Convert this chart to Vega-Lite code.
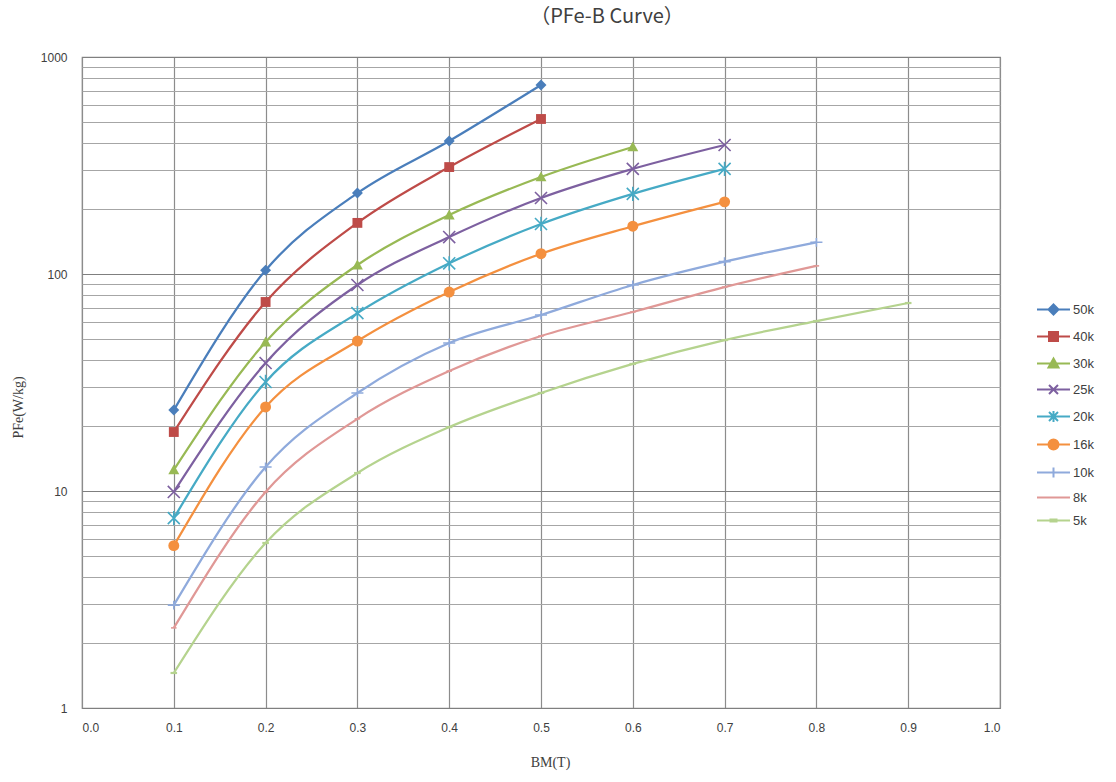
{
  "$schema": "https://vega.github.io/schema/vega-lite/v6.json",
  "width": 918,
  "height": 651,
  "autosize": {"type": "none"},
  "padding": {"left": 82, "top": 57, "right": 116, "bottom": 74},
  "background": "white",
  "title": {
    "text": "（PFe-B Curve）",
    "font": "Noto Sans CJK SC",
    "fontSize": 20,
    "fontWeight": "normal",
    "color": "#404040",
    "anchor": "middle",
    "dx": 66,
    "offset": 24
  },
  "config": {
    "view": {"stroke": "#8c8c8c", "strokeWidth": 1.2},
    "axis": {
      "labelFont": "Liberation Sans",
      "labelFontSize": 12,
      "labelColor": "#404040",
      "titleFont": "Liberation Serif",
      "titleFontSize": 14,
      "titleFontWeight": "normal",
      "titleColor": "#404040",
      "domain": false,
      "ticks": false
    },
    "point": {"size": 120, "strokeWidth": 1.6, "opacity": 1}
  },
  "data": {
    "values": [
      {"series": "50k", "B": 0.1, "P": 23.6},
      {"series": "50k", "B": 0.2, "P": 104},
      {"series": "50k", "B": 0.3, "P": 236},
      {"series": "50k", "B": 0.4, "P": 410},
      {"series": "50k", "B": 0.5, "P": 743},
      {"series": "40k", "B": 0.1, "P": 18.7},
      {"series": "40k", "B": 0.2, "P": 74.3},
      {"series": "40k", "B": 0.3, "P": 172},
      {"series": "40k", "B": 0.4, "P": 311},
      {"series": "40k", "B": 0.5, "P": 518},
      {"series": "30k", "B": 0.1, "P": 12.5},
      {"series": "30k", "B": 0.2, "P": 48.6},
      {"series": "30k", "B": 0.3, "P": 110},
      {"series": "30k", "B": 0.4, "P": 187},
      {"series": "30k", "B": 0.5, "P": 280},
      {"series": "30k", "B": 0.6, "P": 385},
      {"series": "25k", "B": 0.1, "P": 9.9},
      {"series": "25k", "B": 0.2, "P": 38.9},
      {"series": "25k", "B": 0.3, "P": 89},
      {"series": "25k", "B": 0.4, "P": 148},
      {"series": "25k", "B": 0.5, "P": 224},
      {"series": "25k", "B": 0.6, "P": 305},
      {"series": "25k", "B": 0.7, "P": 393},
      {"series": "20k", "B": 0.1, "P": 7.5},
      {"series": "20k", "B": 0.2, "P": 31.8},
      {"series": "20k", "B": 0.3, "P": 66},
      {"series": "20k", "B": 0.4, "P": 112},
      {"series": "20k", "B": 0.5, "P": 170},
      {"series": "20k", "B": 0.6, "P": 234},
      {"series": "20k", "B": 0.7, "P": 305},
      {"series": "16k", "B": 0.1, "P": 5.6},
      {"series": "16k", "B": 0.2, "P": 24.4},
      {"series": "16k", "B": 0.3, "P": 49.1},
      {"series": "16k", "B": 0.4, "P": 82.6},
      {"series": "16k", "B": 0.5, "P": 124},
      {"series": "16k", "B": 0.6, "P": 166},
      {"series": "16k", "B": 0.7, "P": 215},
      {"series": "10k", "B": 0.1, "P": 2.98},
      {"series": "10k", "B": 0.2, "P": 12.9},
      {"series": "10k", "B": 0.3, "P": 28.3},
      {"series": "10k", "B": 0.4, "P": 48.1},
      {"series": "10k", "B": 0.5, "P": 64.7},
      {"series": "10k", "B": 0.6, "P": 89},
      {"series": "10k", "B": 0.7, "P": 114},
      {"series": "10k", "B": 0.8, "P": 140},
      {"series": "8k", "B": 0.1, "P": 2.34},
      {"series": "8k", "B": 0.2, "P": 9.9},
      {"series": "8k", "B": 0.3, "P": 21.5},
      {"series": "8k", "B": 0.4, "P": 35.7},
      {"series": "8k", "B": 0.5, "P": 51.8},
      {"series": "8k", "B": 0.6, "P": 66.8},
      {"series": "8k", "B": 0.7, "P": 87},
      {"series": "8k", "B": 0.8, "P": 109},
      {"series": "5k", "B": 0.1, "P": 1.45},
      {"series": "5k", "B": 0.2, "P": 5.76},
      {"series": "5k", "B": 0.3, "P": 12.1},
      {"series": "5k", "B": 0.4, "P": 19.7},
      {"series": "5k", "B": 0.5, "P": 28.3},
      {"series": "5k", "B": 0.6, "P": 38.5},
      {"series": "5k", "B": 0.7, "P": 49.6},
      {"series": "5k", "B": 0.8, "P": 60.7},
      {"series": "5k", "B": 0.9, "P": 73.5}
    ]
  },
  "encoding": {
    "x": {
      "field": "B",
      "type": "quantitative",
      "scale": {"domain": [0, 1], "nice": false, "zero": false},
      "axis": {
        "title": "BM(T)",
        "values": [0, 0.1, 0.2, 0.3, 0.4, 0.5, 0.6, 0.7, 0.8, 0.9, 1.0],
        "format": ".1f",
        "labelPadding": 14,
        "gridColor": "#8c8c8c",
        "gridWidth": 1.2,
        "titleX": 468,
        "titleY": 54,
        "titleBaseline": "middle"
      }
    },
    "y": {
      "field": "P",
      "type": "quantitative",
      "scale": {"type": "log", "domain": [1, 1000], "nice": false},
      "axis": {
        "title": "PFe(W/kg)",
        "values": [1, 2, 3, 4, 5, 6, 7, 8, 9, 10, 20, 30, 40, 50, 60, 70, 80, 90, 100, 200, 300, 400, 500, 600, 700, 800, 900, 1000],
        "labelExpr": "(datum.value == 1 || datum.value == 10 || datum.value == 100 || datum.value == 1000) ? '' + datum.value : ''",
        "labelPadding": 15,
        "gridColor": {
          "condition": {"test": "datum.value == 1 || datum.value == 10 || datum.value == 100 || datum.value == 1000", "value": "#7f7f7f"},
          "value": "#a6a6a6"
        },
        "gridWidth": 1.2,
        "titleAngle": -90,
        "titleX": -64,
        "titleY": 350,
        "titleBaseline": "middle",
        "titleAlign": "center"
      }
    }
  },
  "layer": [
    {
      "mark": {"type": "line", "interpolate": "monotone", "strokeWidth": 2.25},
      "encoding": {
        "color": {
          "field": "series",
          "type": "nominal",
          "scale": {
            "domain": ["50k", "40k", "30k", "25k", "20k", "16k", "10k", "8k", "5k"],
            "range": ["#4a7ebb", "#be4b48", "#98b954", "#7d60a0", "#46aac5", "#f4903f", "#8faadc", "#e09896", "#b5d38e"]
          },
          "legend": {
            "orient": "none",
            "title": null,
            "legendX": 965,
            "legendY": 246,
            "padding": 0,
            "symbolSize": 100,
            "symbolStrokeWidth": 2,
            "labelOffset": 13,
            "labelFont": "Liberation Sans",
            "labelFontSize": 13,
            "labelColor": "#404040",
            "rowPadding": 9,
            "encode": {
              "symbols": {
                "update": {
                  "shape": {"signal": "datum.value === '50k' ? 'M-3.3,0L3.3,0M0,-1L1,0L0,1L-1,0Z' : datum.value === '40k' ? 'M-3.3,0L3.3,0M-0.9,-0.9L0.9,-0.9L0.9,0.9L-0.9,0.9Z' : datum.value === '30k' ? 'M-3.3,0L3.3,0M0,-1L1,0.8L-1,0.8Z' : datum.value === '25k' ? 'M-3.3,0L3.3,0M-0.9,-0.9L0.9,0.9M-0.9,0.9L0.9,-0.9' : datum.value === '20k' ? 'M-3.3,0L3.3,0M-0.9,-0.9L0.9,0.9M-0.9,0.9L0.9,-0.9M0,-1.1L0,1.1' : datum.value === '16k' ? 'M-3.3,0L3.3,0M-1,0A1,1 0 1,0 1,0A1,1 0 1,0 -1,0Z' : datum.value === '10k' ? 'M-3.3,0L3.3,0M0,-1L0,1' : datum.value === '5k' ? 'M-3.3,0L3.3,0M-0.6,-0.2L0.6,-0.2L0.6,0.2L-0.6,0.2Z' : 'M-3.3,0L3.3,0'"},
                  "fill": {"scale": "color", "field": "value"},
                  "stroke": {"scale": "color", "field": "value"},
                  "strokeWidth": {"value": 2},
                  "opacity": {"value": 1}
                }
              }
            }
          }
        }
      }
    },
    {
      "transform": [{"filter": "datum.series === '50k'"}],
      "mark": {"type": "point", "filled": true, "color": "#4a7ebb", "shape": "M0,-1L1,0L0,1L-1,0Z"}
    },
    {
      "transform": [{"filter": "datum.series === '40k'"}],
      "mark": {"type": "point", "filled": true, "color": "#be4b48", "shape": "M-0.9,-0.9L0.9,-0.9L0.9,0.9L-0.9,0.9Z"}
    },
    {
      "transform": [{"filter": "datum.series === '30k'"}],
      "mark": {"type": "point", "filled": true, "color": "#98b954", "shape": "M0,-1L1,0.8L-1,0.8Z"}
    },
    {
      "transform": [{"filter": "datum.series === '25k'"}],
      "mark": {"type": "point", "filled": false, "color": "#7d60a0", "shape": "M-1.1,-1.1L1.1,1.1M-1.1,1.1L1.1,-1.1"}
    },
    {
      "transform": [{"filter": "datum.series === '20k'"}],
      "mark": {"type": "point", "filled": false, "color": "#46aac5", "shape": "M-1.1,-1.1L1.1,1.1M-1.1,1.1L1.1,-1.1M0,-1.3L0,1.3"}
    },
    {
      "transform": [{"filter": "datum.series === '16k'"}],
      "mark": {"type": "point", "filled": true, "color": "#f4903f", "shape": "circle"}
    },
    {
      "transform": [{"filter": "datum.series === '10k'"}],
      "mark": {"type": "point", "filled": false, "color": "#8faadc", "shape": "M-1.1,0L1.1,0M0,-0.8L0,0.8"}
    },
    {
      "transform": [{"filter": "datum.series === '8k'"}],
      "mark": {"type": "point", "filled": false, "color": "#e09896", "shape": "M-0.5,0L0.5,0"}
    },
    {
      "transform": [{"filter": "datum.series === '5k'"}],
      "mark": {"type": "point", "filled": true, "color": "#b5d38e", "shape": "M-0.6,-0.2L0.6,-0.2L0.6,0.2L-0.6,0.2Z"}
    }
  ]
}
